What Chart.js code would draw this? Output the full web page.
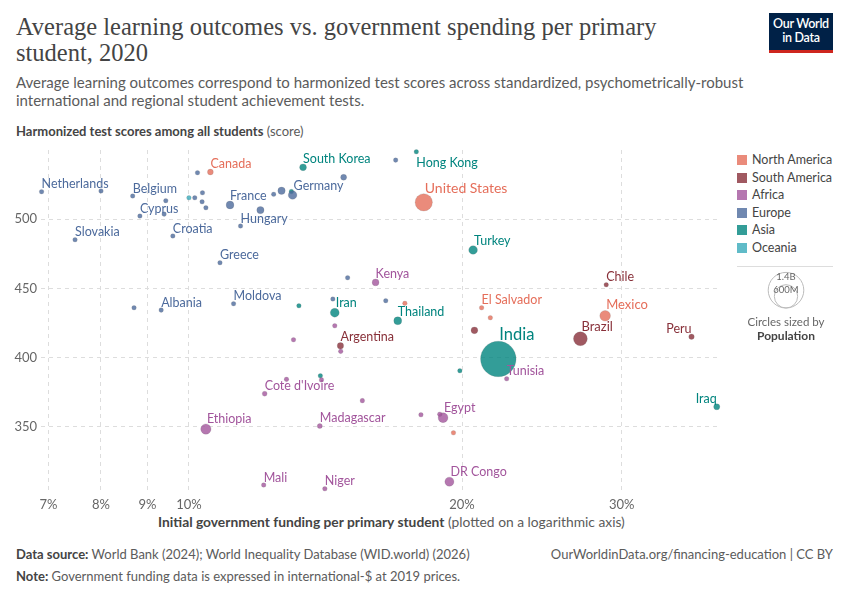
<!DOCTYPE html>
<html>
<head>
<meta charset="utf-8">
<script src="https://cdn.jsdelivr.net/npm/chart.js@4/dist/chart.umd.min.js"></script>
<style>
  body { margin: 0; width: 850px; height: 600px; background: #fff; font-family: Lato, "Noto Sans", sans-serif; position: relative; overflow: hidden; }
  .abs { position: absolute; white-space: nowrap; }
  #title { left: 16px; top: 14px; font-family: "Liberation Serif", serif; font-size: 24.5px; line-height: 26px; color: #444; }
  #subtitle { left: 16px; top: 74px; font-size: 15px; line-height: 17.5px; color: #5b5b5b; }
  #ytitle { left: 16px; top: 123px; font-size: 13px; color: #5b5b5b; }
  #xtitle { left: 158px; top: 513px; font-size: 13.8px; color: #5b5b5b; }
  b { color: #444; font-weight: 700; }
  .foot { left: 16px; font-size: 13px; color: #5b5b5b; }
  #logo { left: 769px; top: 13px; width: 64px; background: #002147; border-bottom: 3px solid #ce261e; color: #fff; font-size: 12.5px; line-height: 14px; text-align: center; padding-top: 4px; box-sizing: content-box; height: 33px; font-weight: 600; letter-spacing: -0.3px; }
  #legend { left: 737px; top: 151px; font-size: 12.5px; color: #444; }
  #legend div { height: 17.6px; line-height: 17.6px; }
  #legend span { display: inline-block; width: 10px; height: 10px; margin-right: 5px; vertical-align: -1px; }
  canvas { position: absolute; left: 0; top: 0; }
</style>
</head>
<body>
<div class="abs" id="title">Average learning outcomes vs. government spending per primary<br>student, 2020</div>
<div class="abs" id="subtitle">Average learning outcomes correspond to harmonized test scores across standardized, psychometrically-robust<br>international and regional student achievement tests.</div>
<div class="abs" id="ytitle"><b>Harmonized test scores among all students</b> (score)</div>
<div class="abs" id="xtitle"><b>Initial government funding per primary student</b> (plotted on a logarithmic axis)</div>
<div class="abs foot" style="top:546px"><b>Data source:</b> World Bank (2024); World Inequality Database (WID.world) (2026)</div>
<div class="abs foot" style="top:546px; left:auto; right:17px">OurWorldinData.org/financing-education | CC BY</div>
<div class="abs foot" style="top:568px"><b>Note:</b> Government funding data is expressed in international-$ at 2019 prices.</div>
<div class="abs" id="logo">Our World<br>in Data</div>
<div class="abs" id="legend"></div>
<canvas id="myChart" width="850" height="600"></canvas>
<script>
var regions = ["North America", "South America", "Africa", "Europe", "Asia", "Oceania"]
var pointColors = ["rgba(229,110,90,0.8)", "rgba(136,48,57,0.8)", "rgba(162,85,156,0.8)", "rgba(76,106,156,0.8)", "rgba(0,132,126,0.8)", "rgba(56,170,186,0.8)"]
var labelColors = ["#e56e5a", "#883039", "#a2559c", "#4c6a9c", "#00847e", "#38aaba"]

// one entry per country; empty name = unlabeled point
var country = ["Netherlands", "", "Belgium", "", "Cyprus", "", "Slovakia", "Croatia", "Greece", "", "", "", "", "", "France", "", "Hungary", "", "", "Germany", "", "", "", "Albania", "Moldova", "", "", "",
  "Canada", "United States", "", "El Salvador", "", "Mexico", "",
  "", "Argentina", "Brazil", "Chile", "Peru",
  "South Korea", "Hong Kong", "", "Turkey", "", "Iran", "Thailand", "India", "", "", "Iraq",
  "Kenya", "", "", "", "", "", "Cote d'Ivoire", "", "Tunisia", "Madagascar", "", "Egypt", "", "DR Congo", "Niger", "Mali", "Ethiopia",
  ""]
var region = [3, 3, 3, 3, 3, 3, 3, 3, 3, 3, 3, 3, 3, 3, 3, 3, 3, 3, 3, 3, 3, 3, 3, 3, 3, 3, 3, 3,
  0, 0, 0, 0, 0, 0, 0,
  1, 1, 1, 1, 1,
  4, 4, 4, 4, 4, 4, 4, 4, 4, 4, 4,
  2, 2, 2, 2, 2, 2, 2, 2, 2, 2, 2, 2, 2, 2, 2, 2, 2,
  5]
// initial government funding per primary student, % (x)
var funding = [6.88, 8.0, 8.67, 9.43, 8.83, 9.39, 7.49, 9.60, 10.82, 10.15, 10.22, 10.35, 10.34, 10.44, 11.10, 11.99, 11.40, 12.40, 12.65, 13.01, 14.81, 16.90, 8.70, 9.32, 11.20, 14.96, 14.41, 16.48,
  10.56, 18.15, 17.30, 21.02, 21.49, 28.76, 19.57,
  20.64, 14.69, 27.01, 28.84, 35.81,
  13.36, 17.81, 12.97, 20.57, 13.22, 14.48, 16.99, 21.93, 19.89, 13.96, 38.18,
  16.06, 14.48, 13.04, 14.70, 12.81, 14.0, 12.12, 15.53, 22.40, 13.94, 18.02, 19.06, 18.9, 19.37, 14.12, 12.09, 10.44,
  10.0]
// harmonized test score (y)
var score = [519.9, 520.4, 516.8, 513.4, 502.3, 503.7, 485.2, 487.9, 468.6, 515.5, 533.6, 519.1, 512.6, 508.3, 510.3, 506.6, 495.1, 518.0, 520.6, 517.5, 530.3, 542.7, 436.1, 434.4, 439.0, 457.8, 442.4, 441.2,
  534.1, 512.2, 439.3, 436.1, 428.9, 430.3, 345.8,
  419.8, 408.7, 413.7, 452.7, 415.2,
  537.5, 548.7, 520.0, 477.8, 437.5, 432.5, 426.7, 399.1, 390.6, 387.0, 364.6,
  454.4, 423.1, 413.0, 404.6, 384.4, 384.0, 374.0, 369.0, 384.8, 350.7, 358.8, 356.7, 359.2, 310.5, 305.4, 308.1, 348.5,
  515.5]
// population, millions
var population = [17.4, 5, 11.5, 5, 1.2, 0.5, 5.5, 4.1, 10.7, 5, 5, 5, 5, 5, 67, 59, 9.7, 10, 60, 83, 40, 5, 3, 2.8, 2.6, 5, 3, 5,
  38, 331, 3, 6.3, 5, 126, 5,
  51, 45, 213, 19, 33,
  51.8, 7.5, 5, 84, 5, 87, 70, 1396, 5, 5, 42,
  52, 5, 5, 10, 5, 2, 27, 10, 12, 28, 10, 107, 20, 92, 24, 21, 118,
  5]

var xTicks = [7, 8, 9, 10, 20, 30]
var yTicks = [350, 400, 450, 500]

function radius(pop) { return Math.max(2.3, 17.8 * Math.sqrt(pop / 1400)) }

var datasets = []
regions.forEach(function(name, ri) {
  var pts = [], names = []
  country.forEach(function(c, i) {
    if (region[i] !== ri) return
    pts.push({ x: funding[i], y: score[i], r: radius(population[i]) })
    names.push(c)
  })
  datasets.push({ label: name, data: pts, names: names, clip: false, backgroundColor: pointColors[ri], borderColor: "rgba(90,90,90,0.25)", borderWidth: 0.6, textColor: labelColors[ri] })
})

var leg = document.getElementById("legend")
regions.forEach(function(name, ri) {
  leg.innerHTML += '<div><span style="background:' + pointColors[ri] + '"></span>' + name + '</div>'
})

var labelSide = { "Hong Kong": "below", "Peru": "left", "Iraq": "left" }
var labelSize = { "India": 16.5, "United States": 14, "Mexico": 13, "Brazil": 13 }

var pointLabels = {
  id: "pointLabels",
  afterDatasetsDraw: function(chart) {
    var ctx = chart.ctx
    chart.data.datasets.forEach(function(ds, i) {
      var meta = chart.getDatasetMeta(i)
      meta.data.forEach(function(el, j) {
        var name = ds.names[j]
        if (!name) return
        var r = el.options.radius
        ctx.save()
        ctx.font = (labelSize[name] || 12.5) + "px Lato"
        ctx.fillStyle = ds.textColor
        ctx.textBaseline = "alphabetic"
        if (labelSide[name] === "below") {
          ctx.textAlign = "left"
          ctx.fillText(name, el.x, el.y + r + 13)
        } else if (labelSide[name] === "left") {
          ctx.textAlign = "right"
          ctx.fillText(name, el.x, el.y - r - 1)
        } else {
          ctx.textAlign = "left"
          ctx.fillText(name, el.x + (r > 4 ? 1 : 0), el.y - r - 1)
        }
        ctx.restore()
      })
    })
  }
}

var sizeLegend = {
  id: "sizeLegend",
  afterDraw: function(chart) {
    var ctx = chart.ctx
    var cx = 786, bottom = 308
    ctx.save()
    ctx.strokeStyle = "#ddd"
    ctx.lineWidth = 1
    ctx.beginPath(); ctx.moveTo(737, 266.5); ctx.lineTo(833, 266.5); ctx.stroke()
    ctx.strokeStyle = "#bbb"
    ;[1400, 600].forEach(function(p) {
      var r = radius(p)
      ctx.beginPath(); ctx.arc(cx, bottom - r, r, 0, Math.PI * 2); ctx.stroke()
    })
    ctx.fillStyle = "#666"
    ctx.textAlign = "center"
    ctx.textBaseline = "middle"
    ctx.font = "9.5px Lato"
    ctx.fillText("1.4B", cx, bottom - 2 * radius(1400) + 5)
    ctx.fillText("600M", cx, bottom - 2 * radius(600) + 5)
    ctx.font = "11.5px Lato"
    ctx.fillText("Circles sized by", cx, 322)
    ctx.font = "bold 12px Lato"
    ctx.fillStyle = "#444"
    ctx.fillText("Population", cx, 336)
    ctx.restore()
  }
}

var myChart = document.getElementById("myChart").getContext("2d")
var chart = new Chart(myChart, {
  type: "bubble",
  data: { datasets: datasets },
  plugins: [pointLabels, sizeLegend],
  options: {
    responsive: false,
    animation: false,
    events: [],
    layout: { padding: { top: 150, right: 132, bottom: 0, left: 0 } },
    plugins: { legend: { display: false }, tooltip: { enabled: false } },
    scales: {
      x: {
        type: "logarithmic",
        min: 6.87,
        max: 38.3,
        afterBuildTicks: function(scale) { scale.ticks = xTicks.map(function(v) { return { value: v } }) },
        afterFit: function(scale) { scale.height = 110 },
        ticks: { padding: 7, color: "#666", font: { family: "Lato", size: 13 }, maxRotation: 0, autoSkip: false, callback: function(v) { return v + "%" } },
        grid: { color: "#ddd", drawTicks: false },
        border: { display: false, dash: [4, 4] }
      },
      y: {
        min: 304.5,
        max: 550,
        afterBuildTicks: function(scale) { scale.ticks = yTicks.map(function(v) { return { value: v } }) },
        afterFit: function(scale) { scale.width = 41 },
        ticks: { padding: 4, color: "#666", font: { family: "Lato", size: 13 } },
        grid: { color: "#ddd", drawTicks: false },
        border: { display: false, dash: [4, 4] }
      }
    }
  }
})
</script>
</body>
</html>
